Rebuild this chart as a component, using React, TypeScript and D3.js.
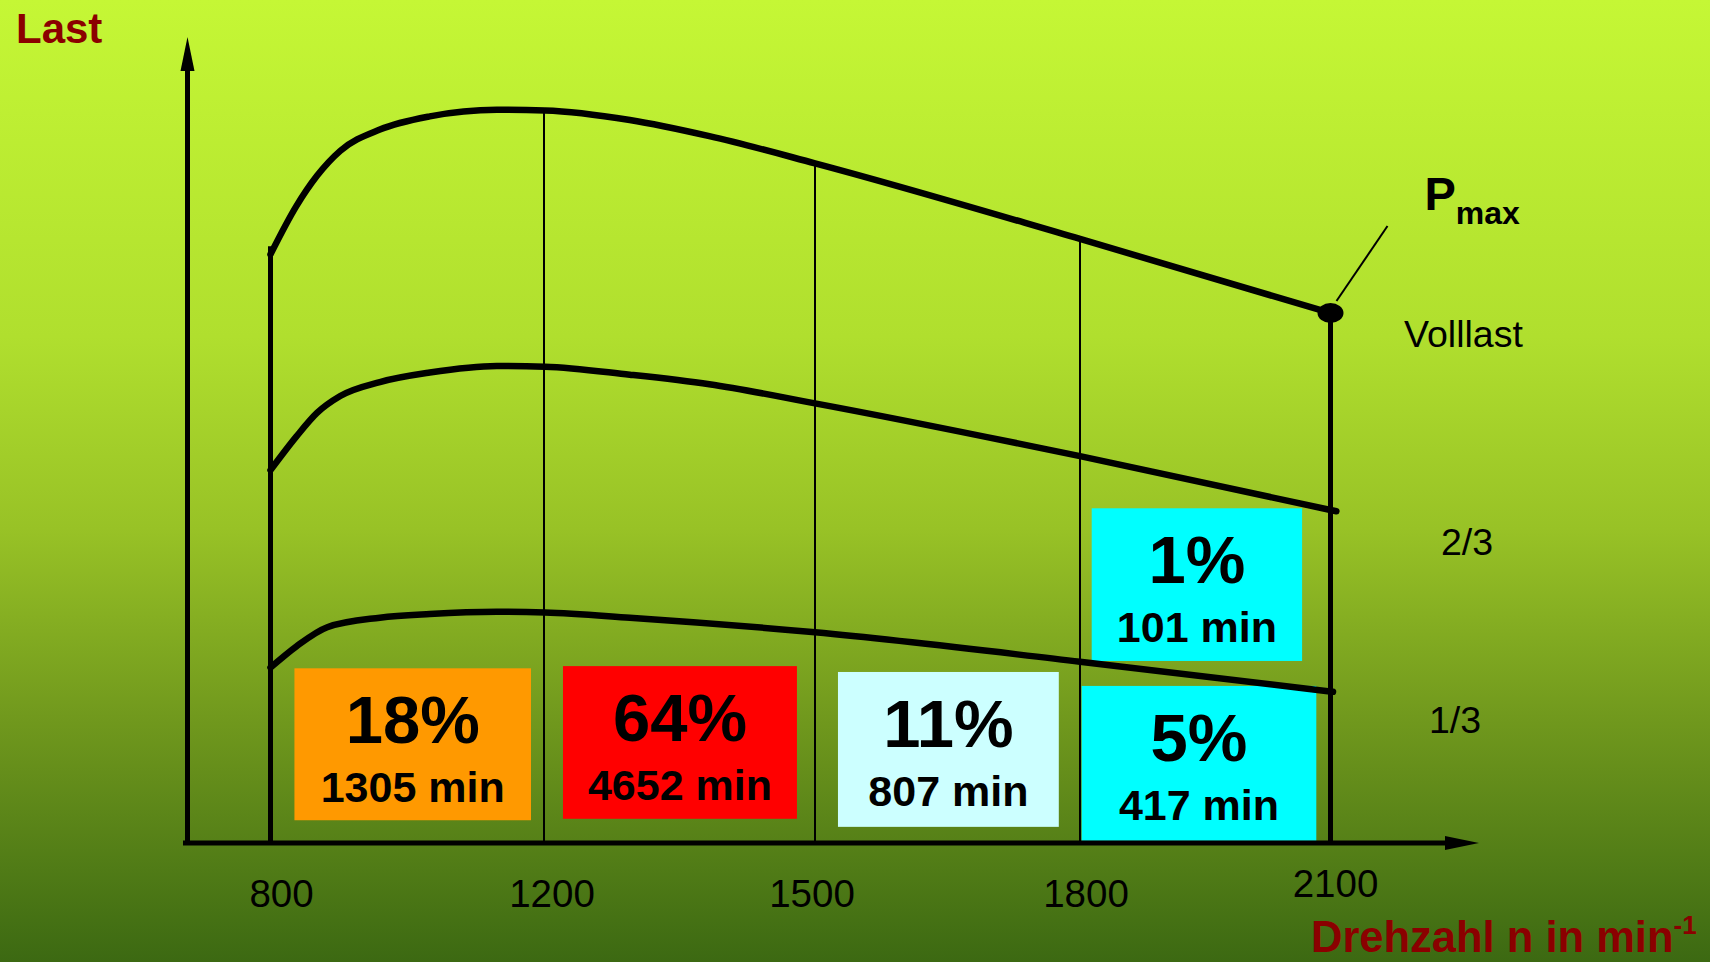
import React, { useEffect, useRef } from 'react';
import * as d3 from 'd3';

// x axis ticks (Drehzahl, min^-1)
const rpmTicks = [800, 1200, 1500, 1800, 2100];

// load curves (load in % of the full-load peak)
const fullLoadRpm = [800, 838, 868, 902, 960, 1033, 1131, 1201, 1295, 1383, 1500, 1800, 2100];
const fullLoad = [80.2, 86.8, 90.9, 94.3, 97.2, 99.0, 99.9, 99.8, 98.5, 96.3, 92.6, 82.3, 72.2];

const twoThirdRpm = [800, 838, 868, 902, 960, 1033, 1131, 1201, 1295, 1383, 1500, 1800, 2107];
const twoThirdLoad = [50.8, 55.4, 58.6, 60.9, 62.8, 64.1, 65.0, 64.9, 63.8, 62.5, 59.9, 52.7, 45.2];

const oneThirdRpm = [800, 838, 883, 960, 1033, 1131, 1201, 1295, 1500, 1800, 2103];
const oneThirdLoad = [23.9, 26.8, 29.4, 30.7, 31.2, 31.5, 31.4, 30.7, 28.7, 24.7, 20.6];

const curveLabels = ['Volllast', '2/3', '1/3'];

// time shares per operating region
const sharePct = ['18%', '64%', '11%', '5%', '1%'];
const shareMin = ['1305 min', '4652 min', '807 min', '417 min', '101 min'];
const shareColors = ['#ff9900', '#ff0000', '#ccffff', '#00ffff', '#00ffff'];

// operating region of each share: rpm band, load band
const shareRpm: [number, number][] = [[835, 1181], [1221, 1480], [1526, 1776], [1802, 2083], [1814, 2066]];
const shareLoad: [number, number][] = [[3.1, 23.8], [3.3, 24.1], [2.2, 23.3], [0.3, 21.4], [24.8, 45.6]];

const W = 1710;
const H = 962;
const dark = '#8b0000';
const font = '"Liberation Sans", Arial, sans-serif';

export default function App() {
  const ref = useRef<SVGSVGElement>(null);

  useEffect(() => {
    if (!ref.current) return;
    const svg = d3.select(ref.current);
    svg.selectAll('*').remove();

    const x = d3.scaleLinear().domain(rpmTicks).range([270.5, 544, 815, 1080, 1330.5]);
    const y = d3.scaleLinear().domain([0, 100]).range([843, 109]);
    const x0 = 187.5;
    const y0 = y(0);

    // background gradient
    const defs = svg.append('defs');
    const grad = defs.append('linearGradient')
      .attr('id', 'bg')
      .attr('x1', 0).attr('y1', 0).attr('x2', 0).attr('y2', 1);
    [[0, '#c5f735'], [0.35, '#b0df2e'], [0.55, '#98c226'], [0.75, '#70981d'], [1, '#3c6912']].forEach(([o, c]) => {
      grad.append('stop').attr('offset', o as number).attr('stop-color', c as string);
    });
    svg.append('rect').attr('width', W).attr('height', H).attr('fill', 'url(#bg)');

    // share boxes
    const boxes = svg.append('g');
    sharePct.forEach((pct, i) => {
      const [r0, r1] = shareRpm[i];
      const [l0, l1] = shareLoad[i];
      const top = y(l1);
      const cx = (x(r0) + x(r1)) / 2;
      boxes.append('rect')
        .attr('x', x(r0)).attr('y', top)
        .attr('width', x(r1) - x(r0)).attr('height', y(l0) - top)
        .attr('fill', shareColors[i]);
      boxes.append('text')
        .attr('x', cx).attr('y', top + 75)
        .attr('text-anchor', 'middle')
        .style('font-family', font).style('font-weight', 'bold').style('font-size', '67px')
        .text(pct);
      boxes.append('text')
        .attr('x', cx).attr('y', top + 134)
        .attr('text-anchor', 'middle')
        .style('font-family', font).style('font-weight', 'bold').style('font-size', '43px')
        .text(shareMin[i]);
    });

    const full = fullLoadRpm.map((r, i) => [r, fullLoad[i]] as [number, number]);
    const fullAt = (r: number) => {
      const j = fullLoadRpm.indexOf(r);
      return j >= 0 ? fullLoad[j] : fullLoad[0];
    };

    // thin verticals at inner ticks
    rpmTicks.slice(1, -1).forEach((r) => {
      const i = d3.bisectLeft(fullLoadRpm, r);
      const a = full[i - 1], b = full[i];
      const v = fullLoadRpm[i] === r ? fullLoad[i] : a[1] + (b[1] - a[1]) * (r - a[0]) / (b[0] - a[0]);
      svg.append('line')
        .attr('x1', x(r)).attr('x2', x(r))
        .attr('y1', y(v)).attr('y2', y0)
        .attr('stroke', '#000').attr('stroke-width', 2);
    });

    // bold verticals at 800 and 2100
    const rMin = rpmTicks[0];
    const rMax = rpmTicks[rpmTicks.length - 1];
    svg.append('line')
      .attr('x1', x(rMin)).attr('x2', x(rMin))
      .attr('y1', y(fullAt(rMin)) - 8).attr('y2', y0)
      .attr('stroke', '#000').attr('stroke-width', 5);
    svg.append('line')
      .attr('x1', x(rMax)).attr('x2', x(rMax))
      .attr('y1', y(fullAt(rMax))).attr('y2', y0)
      .attr('stroke', '#000').attr('stroke-width', 5);

    // load curves
    const line = d3.line<[number, number]>()
      .x((d) => x(d[0]))
      .y((d) => y(d[1]))
      .curve(d3.curveMonotoneX);
    const series: [number, number][][] = [
      full,
      twoThirdRpm.map((r, i) => [r, twoThirdLoad[i]] as [number, number]),
      oneThirdRpm.map((r, i) => [r, oneThirdLoad[i]] as [number, number]),
    ];
    series.forEach((s) => {
      svg.append('path')
        .attr('d', line(s))
        .attr('fill', 'none')
        .attr('stroke', '#000')
        .attr('stroke-width', 6.5)
        .attr('stroke-linecap', 'round')
        .attr('stroke-linejoin', 'round');
    });

    // curve labels
    const labelOffsets = [[73.5, 34], [110.5, 44], [98.5, 41]];
    series.forEach((s, i) => {
      const last = s[s.length - 1];
      svg.append('text')
        .attr('x', x(rMax) + labelOffsets[i][0])
        .attr('y', y(last[1]) + labelOffsets[i][1])
        .style('font-family', font).style('font-size', '37.5px')
        .text(curveLabels[i]);
    });

    // Pmax marker
    const px = x(rMax);
    const py = y(fullAt(rMax));
    svg.append('ellipse')
      .attr('cx', px).attr('cy', py).attr('rx', 13).attr('ry', 10)
      .attr('fill', '#000');
    svg.append('line')
      .attr('x1', px + 6).attr('y1', py - 12)
      .attr('x2', px + 57).attr('y2', py - 87)
      .attr('stroke', '#000').attr('stroke-width', 2);
    const pm = svg.append('text')
      .attr('x', px + 94).attr('y', py - 103)
      .style('font-family', font).style('font-weight', 'bold').style('font-size', '47px');
    pm.append('tspan').text('P');
    pm.append('tspan').attr('dy', 14).style('font-size', '32px').text('max');

    // axes
    svg.append('line')
      .attr('x1', x0).attr('x2', x0).attr('y1', y0 + 2).attr('y2', 66)
      .attr('stroke', '#000').attr('stroke-width', 5);
    svg.append('path')
      .attr('d', `M${x0},37 L${x0 + 7},71 L${x0 - 7},71 Z`)
      .attr('fill', '#000');
    svg.append('line')
      .attr('x1', 183).attr('x2', 1450).attr('y1', y0).attr('y2', y0)
      .attr('stroke', '#000').attr('stroke-width', 5);
    svg.append('path')
      .attr('d', `M1479,${y0} L1445,${y0 - 7} L1445,${y0 + 7} Z`)
      .attr('fill', '#000');

    // tick labels
    const tickShift = [11, 8, -3, 6, 5];
    rpmTicks.forEach((r, i) => {
      svg.append('text')
        .attr('x', x(r) + tickShift[i])
        .attr('y', i === rpmTicks.length - 1 ? y0 + 54 : y0 + 64)
        .attr('text-anchor', 'middle')
        .style('font-family', font).style('font-size', '38.5px')
        .text(String(r));
    });

    // axis titles
    svg.append('text')
      .attr('x', 16).attr('y', 43)
      .attr('fill', dark)
      .style('font-family', font).style('font-weight', 'bold').style('font-size', '42px')
      .text('Last');
    const xt = svg.append('text')
      .attr('x', 1311).attr('y', 952)
      .attr('fill', dark)
      .style('font-family', font).style('font-weight', 'bold').style('font-size', '43.5px');
    xt.append('tspan').text('Drehzahl n in min');
    xt.append('tspan').attr('dy', -18).style('font-size', '26px').text('-1');
  }, []);

  return (
    <svg
      ref={ref}
      width={W}
      height={H}
      style={{ position: 'fixed', left: 0, top: 0, display: 'block' }}
    />
  );
}
